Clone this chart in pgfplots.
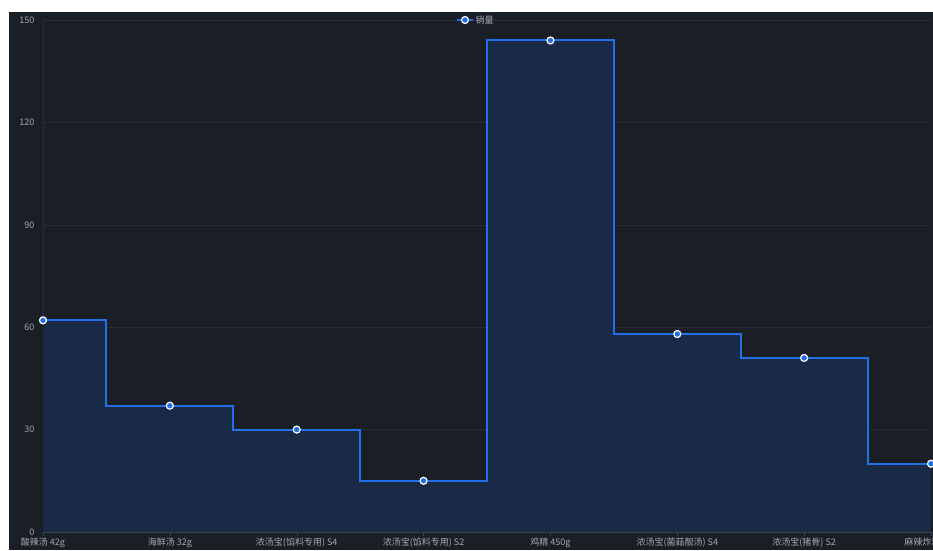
\documentclass[border=0pt]{standalone}
\usepackage{fontspec}
\setmainfont{Noto Sans CJK SC}
\usepackage{pgfplots}
\pgfplotsset{compat=1.18}
\definecolor{bgdark}{RGB}{26,30,37}
\definecolor{areafill}{RGB}{24,42,70}
\definecolor{linec}{RGB}{34,111,232}
\definecolor{gridc}{RGB}{38,45,56}
\definecolor{axisc}{RGB}{62,68,78}
\definecolor{labelc}{RGB}{165,168,174}
\begin{document}
\begin{tikzpicture}[x=1pt,y=1pt]
\fill[white] (0,0) rectangle (933,550);
\fill[bgdark] (9,0) rectangle (933,538);
\useasboundingbox (0,0) rectangle (933,550);
\begin{axis}[
  scale only axis,
  width=888pt, height=512pt,
  at={(43pt,18pt)}, anchor=south west,
  xmin=0, xmax=7, ymin=0, ymax=150,
  clip=false,
  axis x line=bottom, axis y line=left,
  axis line style={-},
  x axis line style={draw=axisc},
  y axis line style={draw=gridc},
  xtick={0,...,7},
  xticklabels={酸辣汤 42g,海鲜汤 32g,浓汤宝(馅料专用) S4,浓汤宝(馅料专用) S2,鸡精 450g,浓汤宝(菌菇靓汤) S4,浓汤宝(猪骨) S2,麻辣炸鸡 45g},
  ytick={0,30,60,90,120,150},
  ymajorgrids,
  major grid style={draw=gridc, line width=0.6pt},
  xtick style={draw=axisc},
  major tick length=4pt,
  ytick style={draw=none},
  tick align=outside,
  tick label style={font=\fontsize{9}{10}\selectfont, text=labelc},
  /pgf/number format/assume math mode=true,
  xticklabel style={yshift=2pt},
  yticklabel style={xshift=-1pt},
  legend style={at={(rel axis cs:0.4876,1)}, anchor=center, draw=none, fill=none,
    text=labelc, font=\fontsize{9}{10}\selectfont, inner sep=0pt},
  legend image code/.code={
    \draw[linec, line width=1.5pt] (0pt,0pt) -- (16pt,0pt);
    \draw[white, fill=linec, line width=1.2pt] (8pt,0pt) circle (3.5pt);
  },
]
\addplot[const plot mark mid, fill=areafill, draw=none, forget plot]
  coordinates {(0,62) (1,37) (2,30) (3,15) (4,144) (5,58) (6,51) (7,20)} \closedcycle;
\addplot[const plot mark mid, draw=linec, line width=2pt,
  mark=*, mark size=3.5pt, mark options={draw=white, fill=linec, line width=1.2pt}]
  coordinates {(0,62) (1,37) (2,30) (3,15) (4,144) (5,58) (6,51) (7,20)};
\addlegendentry{销量}
\end{axis}
\end{tikzpicture}
\end{document}
